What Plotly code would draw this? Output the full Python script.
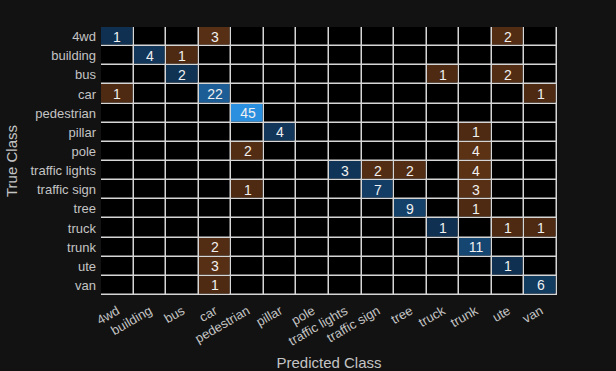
import plotly.graph_objects as go
import numpy as np

classes = ["4wd", "building", "bus", "car", "pedestrian", "pillar", "pole",
           "traffic lights", "traffic sign", "tree", "truck", "trunk", "ute", "van"]

# rows = true class, cols = predicted class
counts = [
    [1, 0, 0, 3, 0, 0, 0, 0, 0, 0, 0, 0, 2, 0],
    [0, 4, 1, 0, 0, 0, 0, 0, 0, 0, 0, 0, 0, 0],
    [0, 0, 2, 0, 0, 0, 0, 0, 0, 0, 1, 0, 2, 0],
    [1, 0, 0, 22, 0, 0, 0, 0, 0, 0, 0, 0, 0, 1],
    [0, 0, 0, 0, 45, 0, 0, 0, 0, 0, 0, 0, 0, 0],
    [0, 0, 0, 0, 0, 4, 0, 0, 0, 0, 0, 1, 0, 0],
    [0, 0, 0, 0, 2, 0, 0, 0, 0, 0, 0, 4, 0, 0],
    [0, 0, 0, 0, 0, 0, 0, 3, 2, 2, 0, 4, 0, 0],
    [0, 0, 0, 0, 1, 0, 0, 0, 7, 0, 0, 3, 0, 0],
    [0, 0, 0, 0, 0, 0, 0, 0, 0, 9, 0, 1, 0, 0],
    [0, 0, 0, 0, 0, 0, 0, 0, 0, 0, 1, 0, 1, 1],
    [0, 0, 0, 2, 0, 0, 0, 0, 0, 0, 0, 11, 0, 0],
    [0, 0, 0, 3, 0, 0, 0, 0, 0, 0, 0, 0, 1, 0],
    [0, 0, 0, 1, 0, 0, 0, 0, 0, 0, 0, 0, 0, 6],
]

M = np.array(counts, dtype=float)
n = len(classes)
diag = np.full_like(M, np.nan)
off = np.full_like(M, np.nan)
for i in range(n):
    for j in range(n):
        if M[i, j] > 0:
            if i == j:
                diag[i, j] = M[i, j]
            else:
                off[i, j] = M[i, j]

font = "Liberation Sans, Arial, sans-serif"
fig = go.Figure()
fig.add_trace(go.Heatmap(z=np.zeros_like(M), x=classes, y=classes,
                         colorscale=[[0, "#000000"], [1, "#000000"]],
                         showscale=False, xgap=1.5, ygap=1.5, hoverinfo="skip"))
fig.add_trace(go.Heatmap(z=diag, x=classes, y=classes, zmin=1, zmax=45,
                         colorscale=[[0, "#0f3050"], [1, "#2b8fe0"]],
                         showscale=False, xgap=1.5, ygap=1.5,
                         texttemplate="%{z}",
                         textfont=dict(color="#f0f0f0", size=14, family=font)))
fig.add_trace(go.Heatmap(z=off, x=classes, y=classes, zmin=1, zmax=4,
                         colorscale=[[0, "#4e2a12"], [1, "#5c3215"]],
                         showscale=False, xgap=1.5, ygap=1.5,
                         texttemplate="%{z}",
                         textfont=dict(color="#f0f0f0", size=14, family=font)))

fig.update_layout(
    width=616, height=371,
    margin=dict(l=101, r=59, t=27, b=76),
    paper_bgcolor="#121212",
    plot_bgcolor="#d6d6d6",
    font=dict(family=font, color="#c4c4c4", size=13),
    xaxis=dict(title=dict(text="Predicted Class", font=dict(size=15), standoff=10),
               tickangle=-30, showgrid=False, zeroline=False, ticks="",
               ticklabelstandoff=5, automargin=False,
               tickfont=dict(size=13)),
    yaxis=dict(title=dict(text="True Class", font=dict(size=15), standoff=9),
               autorange="reversed", showgrid=False, zeroline=False, ticks="",
               ticklabelstandoff=4, automargin=False,
               tickfont=dict(size=13)),
)

fig.write_html("out.html", config={"displayModeBar": False},
               post_script="document.body.style.margin='0';document.body.style.background='#121212';")
